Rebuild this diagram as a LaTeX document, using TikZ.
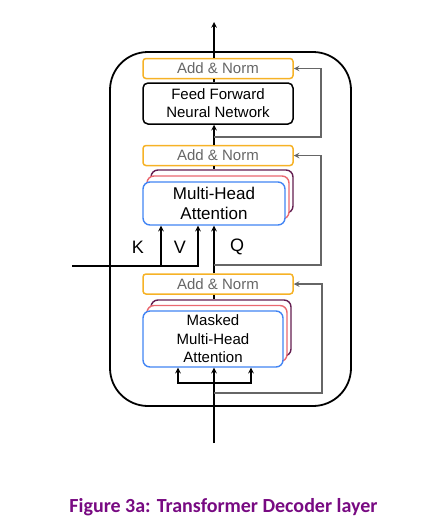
\documentclass[tikz,border=0pt]{standalone}
\usepackage{fontspec}
\setmainfont{Liberation Sans}
\newfontfamily\titlefont{Carlito}
\usepackage{xcolor}
\usetikzlibrary{arrows, positioning}

\definecolor{normorange}{RGB}{246,178,38}
\definecolor{headblue}{RGB}{66,133,244}
\definecolor{headred}{RGB}{234,104,112}
\definecolor{headpurple}{RGB}{100,30,80}
\definecolor{resgray}{RGB}{102,102,102}
\definecolor{titlepurple}{RGB}{120,10,130}

\begin{document}
\begin{tikzpicture}[
    x=1pt, y=-1pt,
    norm/.style={draw=normorange, line width=1.5pt, rectangle, rounded corners=3pt, minimum width=150pt, minimum height=20pt, inner sep=0pt, text=resgray, font=\fontsize{15}{18}\selectfont},
    ffbox/.style={draw, line width=1.5pt, rectangle, rounded corners=5pt, minimum width=150pt, minimum height=41pt, inner sep=0pt, align=center, font=\fontsize{15}{18}\selectfont},
    head/.style={draw, line width=1.4pt, fill=white, rectangle, rounded corners=7pt, inner sep=0pt, align=center},
    arrow/.style={->, >=stealth, line width=1.5pt},
    res/.style={->, >=stealth, line width=1.5pt, draw=resgray},
]
\useasboundingbox (0,0) rectangle (422,530);

% Decoder layer frame
\node[draw, line width=1.8pt, rectangle, rounded corners=38pt, minimum width=241pt, minimum height=354pt] (layer) at (230.5,229) {};

% Add & Norm boxes
\node[norm] (an1) at (218,68.5) {Add \& Norm};
\node[norm] (an2) at (218,155.5) {Add \& Norm};
\node[norm] (an3) at (218,284) {Add \& Norm};

% Feed forward
\node[ffbox] (ffn) at (218,103.5) {Feed Forward\\Neural Network};

% Multi-head attention (stacked heads)
\node[head, draw=headpurple, minimum width=142pt, minimum height=43pt] (mha3) at (222,191.5) {};
\node[head, draw=headred, minimum width=142pt, minimum height=43pt] (mha2) at (218,197.5) {};
\node[head, draw=headblue, minimum width=142pt, minimum height=43pt, font=\fontsize{17}{20}\selectfont] (mha) at (214,203.5) {Multi-Head\\Attention};

% Masked multi-head attention (stacked heads)
\node[head, draw=headpurple, minimum width=140pt, minimum height=56pt] (mmha3) at (221,328) {};
\node[head, draw=headred, minimum width=140pt, minimum height=56pt] (mmha2) at (217,333.5) {};
\node[head, draw=headblue, minimum width=140pt, minimum height=56pt, font=\fontsize{15}{18.5}\selectfont] (mmha) at (213,339) {Masked\\Multi-Head\\Attention};

% K, V, Q labels
\node[font=\fontsize{18}{20}\selectfont] (klab) at (138,247) {K};
\node[font=\fontsize{18}{20}\selectfont] (vlab) at (180,247) {V};
\node[font=\fontsize{18}{20}\selectfont] (qlab) at (237,247) {Q};

% Free ends
\coordinate (out) at (214,22);
\coordinate (enc) at (72,266);
\coordinate (kfork) at (161,266);
\coordinate (inp) at (214,443);
\coordinate (fork) at (214,383);
\coordinate (r1) at (214,137);
\coordinate (r2) at (214,265);
\coordinate (r3) at (214,393);

% Arrows
\draw[arrow] (inp) -- (inp |- mmha.south);
\draw[arrow] (fork) -| ([xshift=-35pt]mmha.south);
\draw[arrow] (fork) -| ([xshift=38pt]mmha.south);
\draw[line width=1.5pt] (inp |- an3.south) -- (inp |- mmha3.north);
\draw[arrow] (inp |- an3.north) -- (inp |- mha.south);
\draw[arrow] (enc) -| ([xshift=-16pt]mha.south);
\draw[arrow] (kfork) -- (kfork |- mha.south);
\draw[line width=1.5pt] (inp |- an2.south) -- (inp |- mha3.north);
\draw[arrow] (inp |- an2.north) -- (inp |- ffn.south);
\draw[line width=1.5pt] (inp |- ffn.north) -- (inp |- an1.south);
\draw[arrow] (inp |- an1.north) -- (out);

% Residual connections
\draw[res] (r3) -- ++(108,0) |- (an3.east);
\draw[res] (r2) -- ++(107,0) |- (an2.east);
\draw[res] (r1) -- ++(107,0) |- (an1.east);

% Caption
\node[text=titlepurple, font=\titlefont\bfseries\fontsize{20}{22}\selectfont] (caption) at (223.5,507) {Figure 3a: Transformer Decoder layer};

\end{tikzpicture}
\end{document}
